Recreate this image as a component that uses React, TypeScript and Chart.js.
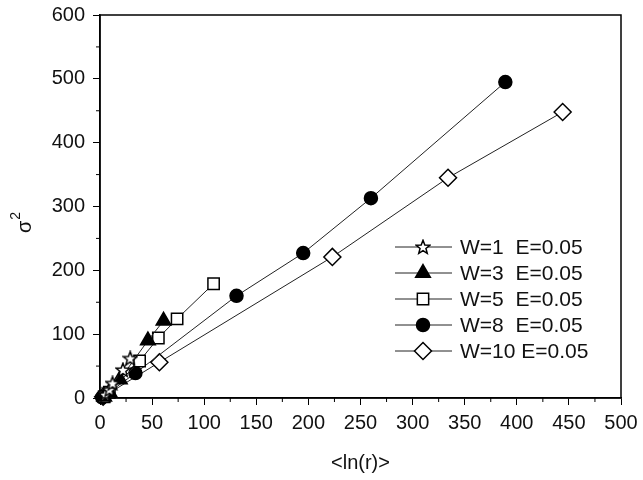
import React, { useEffect, useRef } from "react";
import { Chart, registerables } from "chart.js";
import { drawPoint } from "chart.js/helpers";

Chart.register(...registerables);

const seriesLabels = ["W=1  E=0.05", "W=3  E=0.05", "W=5  E=0.05", "W=8  E=0.05", "W=10 E=0.05"];
const w1X = [5, 9, 12, 22, 29];
const w1Y = [5, 13, 23, 44, 62];
const w3X = [4, 9, 19, 46, 61];
const w3Y = [2, 9, 29, 90, 121];
const w5X = [4, 9, 38, 56, 74, 109];
const w5Y = [2, 9, 58, 94, 124, 179];
const w8X = [2, 34, 131, 195, 260, 389];
const w8Y = [1, 39, 160, 227, 313, 495];
const w10X = [3, 57, 223, 334, 444];
const w10Y = [2, 56, 221, 345, 448];
const xTicks = [0, 50, 100, 150, 200, 250, 300, 350, 400, 450, 500];
const yTicks = [0, 100, 200, 300, 400, 500, 600];
const xTitle = "<ln(r)>";
const yTitleMain = "σ";
const yTitleSup = "2";

function makeStar(): HTMLCanvasElement {
  const c = document.createElement("canvas");
  c.width = 16;
  c.height = 16;
  const ctx = c.getContext("2d")!;
  const cx = 8, cy = 8.5, R = 7.2, r = 3.1;
  ctx.beginPath();
  for (let i = 0; i < 10; i++) {
    const rad = -Math.PI / 2 + (i * Math.PI) / 5;
    const rr = i % 2 === 0 ? R : r;
    const x = cx + rr * Math.cos(rad);
    const y = cy + rr * Math.sin(rad);
    if (i === 0) ctx.moveTo(x, y);
    else ctx.lineTo(x, y);
  }
  ctx.closePath();
  ctx.fillStyle = "#fff";
  ctx.fill();
  ctx.lineWidth = 1.5;
  ctx.strokeStyle = "#000";
  ctx.stroke();
  return c;
}

const zip = (xs: number[], ys: number[]) => xs.map((x, i) => ({ x, y: ys[i] }));
const FAMILY = "'Liberation Sans', Arial, sans-serif";

export default function App() {
  const ref = useRef<HTMLCanvasElement>(null);
  useEffect(() => {
    const star = makeStar();
    const styles: any[] = [
      { pointStyle: star, radius: 7, fill: "#fff" },
      { pointStyle: "triangle", radius: 8.5, fill: "#000" },
      { pointStyle: "rect", radius: 8, fill: "#fff" },
      { pointStyle: "circle", radius: 6.5, fill: "#000" },
      { pointStyle: "rectRot", radius: 8.5, fill: "#fff" },
    ];
    const data = [zip(w1X, w1Y), zip(w3X, w3Y), zip(w5X, w5Y), zip(w8X, w8Y), zip(w10X, w10Y)];
    const datasets = data.map((d, i) => ({
      label: seriesLabels[i],
      data: d,
      showLine: true,
      borderColor: "#222",
      borderWidth: 1,
      pointStyle: styles[i].pointStyle,
      pointRadius: styles[i].radius,
      pointBackgroundColor: styles[i].fill,
      pointBorderColor: "#000",
      pointBorderWidth: 1.5,
    }));

    const frame = {
      id: "frame",
      afterDraw(chart: any) {
        const { ctx, chartArea } = chart;
        const xs = chart.scales.x;
        const ys = chart.scales.y;
        ctx.save();
        ctx.strokeStyle = "#000";
        ctx.lineWidth = 1.5;
        ctx.strokeRect(chartArea.left, chartArea.top, chartArea.right - chartArea.left, chartArea.bottom - chartArea.top);
        ctx.lineWidth = 1;
        for (let v = 25; v < 500; v += 50) {
          const px = xs.getPixelForValue(v);
          ctx.beginPath();
          ctx.moveTo(px, chartArea.bottom);
          ctx.lineTo(px, chartArea.bottom + 4);
          ctx.stroke();
        }
        for (let v = 50; v < 600; v += 100) {
          const py = ys.getPixelForValue(v);
          ctx.beginPath();
          ctx.moveTo(chartArea.left, py);
          ctx.lineTo(chartArea.left - 4, py);
          ctx.stroke();
        }
        // y axis title: sigma with superscript 2, rotated
        ctx.save();
        ctx.translate(24, 223);
        ctx.rotate(-Math.PI / 2);
        ctx.fillStyle = "#111";
        ctx.textBaseline = "alphabetic";
        ctx.textAlign = "left";
        ctx.font = `20px ${FAMILY}`;
        const w = ctx.measureText(yTitleMain).width;
        ctx.fillText(yTitleMain, -10, 7);
        ctx.font = `14px ${FAMILY}`;
        ctx.fillText(yTitleSup, -10 + w + 1, -4);
        ctx.restore();
        // legend
        const lx0 = 395, lx1 = 452, mx = 423, tx = 460;
        const rows = [247, 273, 299, 325, 351];
        ctx.font = `21px ${FAMILY}`;
        ctx.textBaseline = "middle";
        ctx.textAlign = "left";
        rows.forEach((y, i) => {
          ctx.strokeStyle = "#222";
          ctx.lineWidth = 1;
          ctx.beginPath();
          ctx.moveTo(lx0, y);
          ctx.lineTo(lx1, y);
          ctx.stroke();
          ctx.fillStyle = styles[i].fill;
          ctx.strokeStyle = "#000";
          ctx.lineWidth = 1.5;
          drawPoint(ctx, { pointStyle: styles[i].pointStyle, radius: styles[i].radius, borderWidth: 1.5, rotation: 0 } as any, mx, y);
          ctx.fillStyle = "#111";
          ctx.fillText(seriesLabels[i], tx, y + 1);
        });
        ctx.restore();
      },
    };

    const font = { family: FAMILY, size: 20 };
    const chart = new Chart(ref.current!, {
      type: "scatter",
      data: { datasets },
      plugins: [frame],
      options: {
        animation: false,
        responsive: false,
        clip: false as any,
        layout: { padding: { left: 0, top: 15, right: 22, bottom: 0 } },
        plugins: { legend: { display: false }, tooltip: { enabled: false } },
        scales: {
          x: {
            type: "linear",
            min: 0,
            max: 500,
            afterBuildTicks: (s: any) => { s.ticks = xTicks.map((v) => ({ value: v })); },
            afterFit: (s: any) => { s.height = 82; s.paddingLeft = 0; s.paddingRight = 0; },
            grid: { drawOnChartArea: false, tickLength: 7, color: "#000", lineWidth: 1 },
            border: { color: "#000", width: 1.5 },
            ticks: { color: "#111", font, padding: 6, maxRotation: 0 },
            title: { display: true, text: xTitle, color: "#111", font, padding: { top: 0, bottom: 5 } },
          },
          y: {
            type: "linear",
            min: 0,
            max: 600,
            afterBuildTicks: (s: any) => { s.ticks = yTicks.map((v) => ({ value: v })); },
            afterFit: (s: any) => { s.width = 100; s.paddingTop = 0; s.paddingBottom = 0; },
            grid: { drawOnChartArea: false, tickLength: 7, color: "#000", lineWidth: 1 },
            border: { color: "#000", width: 1.5 },
            ticks: { color: "#111", font, padding: 8 },
            title: { display: false },
          },
        },
      },
    });
    return () => chart.destroy();
  }, []);
  return (
    <div style={{ position: "fixed", left: 0, top: 0, width: 643, height: 480, background: "#fff" }}>
      <canvas ref={ref} width={643} height={480} style={{ width: 643, height: 480 }} />
    </div>
  );
}
